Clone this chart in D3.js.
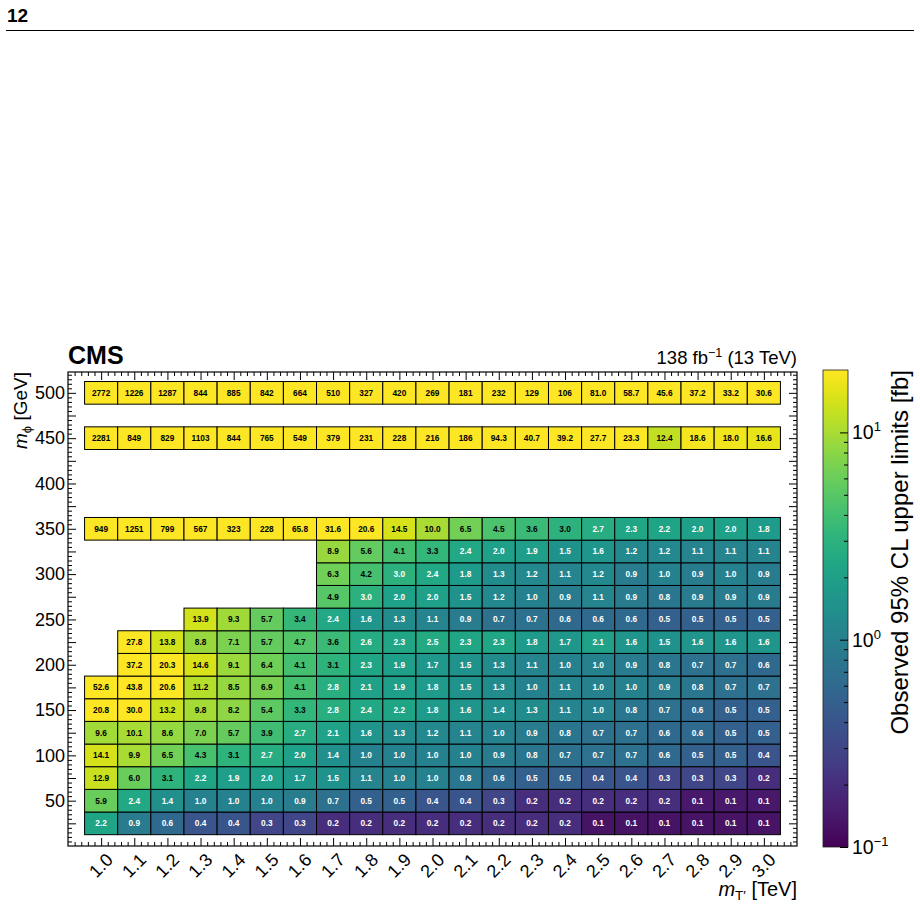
<!DOCTYPE html>
<html>
<head>
<meta charset="utf-8">
<script src="https://cdn.jsdelivr.net/npm/d3@7"></script>
<style>
  body { margin: 0; background: #fff; }
  svg { font-family: "Liberation Sans", Arial, sans-serif; }
</style>
</head>
<body>
<div id="chart"></div>
<script>
// Observed 95% CL upper limits heatmap (m_T' vs m_phi)

// Columns: m_T' [TeV]
const massT = [1.0, 1.1, 1.2, 1.3, 1.4, 1.5, 1.6, 1.7, 1.8, 1.9, 2.0,
               2.1, 2.2, 2.3, 2.4, 2.5, 2.6, 2.7, 2.8, 2.9, 3.0];
// Rows: m_phi [GeV]
const massPhi = [25, 50, 75, 100, 125, 150, 175, 200, 225, 250, 275, 300, 325, 350, 450, 500];

// Limits per row (null = no point); printed "0.1" cells read as ~0.13 from their colour
const lim25  = [2.2, 0.9, 0.6, 0.4, 0.4, 0.3, 0.3, 0.2, 0.2, 0.2, 0.2, 0.2, 0.2, 0.2, 0.2, 0.13, 0.13, 0.13, 0.13, 0.13, 0.13];
const lim50  = [5.9, 2.4, 1.4, 1.0, 1.0, 1.0, 0.9, 0.7, 0.5, 0.5, 0.4, 0.4, 0.3, 0.2, 0.2, 0.2, 0.2, 0.2, 0.14, 0.14, 0.14];
const lim75  = [12.9, 6.0, 3.1, 2.2, 1.9, 2.0, 1.7, 1.5, 1.1, 1.0, 1.0, 0.8, 0.6, 0.5, 0.5, 0.4, 0.4, 0.3, 0.3, 0.3, 0.2];
const lim100 = [14.1, 9.9, 6.5, 4.3, 3.1, 2.7, 2.0, 1.4, 1.0, 1.0, 1.0, 1.0, 0.9, 0.8, 0.7, 0.7, 0.7, 0.6, 0.5, 0.5, 0.4];
const lim125 = [9.6, 10.1, 8.6, 7.0, 5.7, 3.9, 2.7, 2.1, 1.6, 1.3, 1.2, 1.1, 1.0, 0.9, 0.8, 0.7, 0.7, 0.6, 0.6, 0.5, 0.5];
const lim150 = [20.8, 30.0, 13.2, 9.8, 8.2, 5.4, 3.3, 2.8, 2.4, 2.2, 1.8, 1.6, 1.4, 1.3, 1.1, 1.0, 0.8, 0.7, 0.6, 0.5, 0.5];
const lim175 = [52.6, 43.8, 20.6, 11.2, 8.5, 6.9, 4.1, 2.8, 2.1, 1.9, 1.8, 1.5, 1.3, 1.0, 1.1, 1.0, 1.0, 0.9, 0.8, 0.7, 0.7];
const lim200 = [null, 37.2, 20.3, 14.6, 9.1, 6.4, 4.1, 3.1, 2.3, 1.9, 1.7, 1.5, 1.3, 1.1, 1.0, 1.0, 0.9, 0.8, 0.7, 0.7, 0.6];
const lim225 = [null, 27.8, 13.8, 8.8, 7.1, 5.7, 4.7, 3.6, 2.6, 2.3, 2.5, 2.3, 2.3, 1.8, 1.7, 2.1, 1.6, 1.5, 1.6, 1.6, 1.6];
const lim250 = [null, null, null, 13.9, 9.3, 5.7, 3.4, 2.4, 1.6, 1.3, 1.1, 0.9, 0.7, 0.7, 0.6, 0.6, 0.6, 0.5, 0.5, 0.5, 0.5];
const lim275 = [null, null, null, null, null, null, null, 4.9, 2.96, 2.0, 2.0, 1.5, 1.2, 1.0, 0.9, 1.1, 0.9, 0.8, 0.9, 0.9, 0.9];
const lim300 = [null, null, null, null, null, null, null, 6.3, 4.2, 2.96, 2.4, 1.8, 1.3, 1.2, 1.1, 1.2, 0.9, 1.0, 0.9, 1.0, 0.9];
const lim325 = [null, null, null, null, null, null, null, 8.9, 5.6, 4.1, 3.3, 2.4, 2.0, 1.9, 1.5, 1.6, 1.2, 1.2, 1.1, 1.1, 1.1];
const lim350 = [949, 1251, 799, 567, 323, 228, 65.8, 31.6, 20.6, 14.5, 10.0, 6.5, 4.5, 3.6, 3.0, 2.7, 2.3, 2.2, 2.0, 2.0, 1.8];
const lim450 = [2281, 849, 829, 1103, 844, 765, 549, 379, 231, 228, 216, 186, 94.3, 40.7, 39.2, 27.7, 23.3, 12.4, 18.6, 18.0, 16.6];
const lim500 = [2772, 1226, 1287, 844, 885, 842, 664, 510, 327, 420, 269, 181, 232, 129, 106, 81.0, 58.7, 45.6, 37.2, 33.2, 30.6];

const limitRows = [lim25, lim50, lim75, lim100, lim125, lim150, lim175, lim200, lim225,
                   lim250, lim275, lim300, lim325, lim350, lim450, lim500];

// Colour bar range and ticks
const colorRange = [0.1, 20];
const colorTicks = [0.1, 1, 10];
const colorTickExp = ['\u22121', '0', '1'];

// Frame of the plot
const frame = { left: 68, right: 797, top: 372, bottom: 846 };
const cbar = { left: 823, right: 848, top: 370, bottom: 847 };

const svg = d3.select('#chart')
    .append('svg')
    .attr('width', 920)
    .attr('height', 917);

// Page header
svg.append('text')
    .attr('x', 7)
    .attr('y', 22)
    .attr('font-size', 19)
    .attr('font-weight', 'bold')
    .text('12');
svg.append('line')
    .attr('x1', 6).attr('x2', 914)
    .attr('y1', 30.5).attr('y2', 30.5)
    .attr('stroke', '#000')
    .attr('stroke-width', 1);

// Scales
const xScale = d3.scaleLinear().domain([0.9, 3.1]).range([frame.left, frame.right]);
const yScale = d3.scaleLinear().domain([0, 523]).range([frame.bottom, frame.top]);
const cScale = d3.scaleLog().domain(colorRange).range([cbar.bottom, cbar.top]);
const colorOf = v => {
    const t = (Math.log10(Math.min(Math.max(v, colorRange[0]), colorRange[1])) - Math.log10(colorRange[0])) /
              (Math.log10(colorRange[1]) - Math.log10(colorRange[0]));
    return d3.interpolateViridis(t);
};

// Flatten cells
const cells = [];
massPhi.forEach((phi, i) => {
    limitRows[i].forEach((v, j) => {
        if (v !== null) cells.push({ mt: massT[j], phi: phi, v: v });
    });
});

const fmt = v => v >= 100 ? d3.format('.0f')(v) : d3.format('.1f')(v);

// Cells
const cellG = svg.append('g');
cellG.selectAll('rect')
    .data(cells)
    .enter()
    .append('rect')
    .attr('x', d => xScale(d.mt - 0.05))
    .attr('y', d => yScale(d.phi + 12.5))
    .attr('width', d => xScale(d.mt + 0.05) - xScale(d.mt - 0.05))
    .attr('height', d => yScale(d.phi - 12.5) - yScale(d.phi + 12.5))
    .attr('fill', d => colorOf(d.v))
    .attr('stroke', '#000')
    .attr('stroke-width', 1);

cellG.selectAll('text')
    .data(cells)
    .enter()
    .append('text')
    .attr('x', d => xScale(d.mt))
    .attr('y', d => yScale(d.phi))
    .attr('dy', '0.36em')
    .attr('text-anchor', 'middle')
    .attr('font-size', 8.3)
    .attr('font-weight', 'bold')
    .attr('fill', d => d.v >= 3 ? '#000' : '#fff')
    .text(d => fmt(d.v));

// Axes (ticks pointing inward, mirrored on all sides)
const xMinor = d3.range(46, 155).filter(i => i % 5 !== 0).map(i => i / 50);
const yMajor = d3.range(25, 521, 25);
const yMinor = d3.range(5, 521, 5).filter(v => v % 25 !== 0);

function addAxis(axis, transform) {
    const g = svg.append('g').attr('transform', transform).call(axis);
    g.select('.domain').remove();
    g.selectAll('.tick line').attr('stroke', '#000').attr('stroke-width', 1);
    return g;
}

addAxis(d3.axisBottom(xScale).tickValues(massT).tickSize(-8).tickFormat(''), `translate(0,${frame.bottom})`);
addAxis(d3.axisBottom(xScale).tickValues(xMinor).tickSize(-4).tickFormat(''), `translate(0,${frame.bottom})`);
addAxis(d3.axisTop(xScale).tickValues(massT).tickSize(-8).tickFormat(''), `translate(0,${frame.top})`);
addAxis(d3.axisTop(xScale).tickValues(xMinor).tickSize(-4).tickFormat(''), `translate(0,${frame.top})`);

const yAxisG = addAxis(d3.axisLeft(yScale).tickValues(yMajor).tickSize(-8).tickPadding(3)
    .tickFormat(v => v % 50 === 0 ? v : ''), `translate(${frame.left},0)`);
yAxisG.selectAll('text').attr('font-size', 18).attr('fill', '#000')
    .attr('font-family', '"Liberation Sans", Arial, sans-serif');
addAxis(d3.axisLeft(yScale).tickValues(yMinor).tickSize(-4).tickFormat(''), `translate(${frame.left},0)`);
addAxis(d3.axisRight(yScale).tickValues(yMajor).tickSize(-8).tickFormat(''), `translate(${frame.right},0)`);
addAxis(d3.axisRight(yScale).tickValues(yMinor).tickSize(-4).tickFormat(''), `translate(${frame.right},0)`);

// X tick labels (rotated)
svg.append('g')
    .selectAll('text')
    .data(massT)
    .enter()
    .append('text')
    .attr('transform', d => `translate(${xScale(d) + 13},${frame.bottom + 15}) rotate(-45)`)
    .attr('text-anchor', 'end')
    .attr('font-size', 18)
    .text(d => d3.format('.1f')(d));

// Frame
svg.append('rect')
    .attr('x', frame.left)
    .attr('y', frame.top)
    .attr('width', frame.right - frame.left)
    .attr('height', frame.bottom - frame.top)
    .attr('fill', 'none')
    .attr('stroke', '#000')
    .attr('stroke-width', 1.2);

// Titles
svg.append('text')
    .attr('x', frame.left)
    .attr('y', 364)
    .attr('font-size', 25)
    .attr('font-weight', 'bold')
    .text('CMS');

const lumi = svg.append('text')
    .attr('x', frame.right)
    .attr('y', 364)
    .attr('text-anchor', 'end')
    .attr('font-size', 18.5);
lumi.append('tspan').text('138 fb');
lumi.append('tspan').attr('font-size', 12.5).attr('dy', -7).text('\u22121');
lumi.append('tspan').attr('dy', 7).text(' (13 TeV)');

const xTitle = svg.append('text')
    .attr('x', frame.right)
    .attr('y', 896)
    .attr('text-anchor', 'end')
    .attr('font-size', 20);
xTitle.append('tspan').attr('font-style', 'italic').text('m');
xTitle.append('tspan').attr('font-size', 13.5).attr('dy', 4).text('T\u2032');
xTitle.append('tspan').attr('dy', -4).text(' [TeV]');

const yTitle = svg.append('text')
    .attr('transform', `translate(27,${frame.top}) rotate(-90)`)
    .attr('text-anchor', 'end')
    .attr('font-size', 19);
yTitle.append('tspan').attr('font-style', 'italic').text('m');
yTitle.append('tspan').attr('font-size', 13).attr('dy', 4).text('\u03d5');
yTitle.append('tspan').attr('dy', -4).text(' [GeV]');

// Colour bar
const defs = svg.append('defs');
const grad = defs.append('linearGradient')
    .attr('id', 'viridis')
    .attr('x1', 0).attr('y1', 1).attr('x2', 0).attr('y2', 0);
d3.range(0, 1.0001, 0.02).forEach(t => {
    grad.append('stop').attr('offset', t).attr('stop-color', d3.interpolateViridis(t));
});
svg.append('rect')
    .attr('x', cbar.left)
    .attr('y', cbar.top)
    .attr('width', cbar.right - cbar.left)
    .attr('height', cbar.bottom - cbar.top)
    .attr('fill', 'url(#viridis)')
    .attr('stroke', '#222')
    .attr('stroke-width', 0.8);

const cMinor = [];
[0.1, 1].forEach(dec => d3.range(2, 10).forEach(k => cMinor.push(dec * k)));
addAxis(d3.axisRight(cScale).tickValues(colorTicks).tickSize(-8).tickFormat(''), `translate(${cbar.right},0)`);
addAxis(d3.axisRight(cScale).tickValues(cMinor).tickSize(-4).tickFormat(''), `translate(${cbar.right},0)`);

const cLabels = svg.append('g');
colorTicks.forEach((v, i) => {
    const t = cLabels.append('text')
        .attr('x', cbar.right + 4)
        .attr('y', cScale(v) + 7)
        .attr('font-size', 19.5);
    t.append('tspan').text('10');
    t.append('tspan').attr('font-size', 13).attr('dy', -8).text(colorTickExp[i]);
});

svg.append('text')
    .attr('transform', `translate(908,${cbar.top}) rotate(-90)`)
    .attr('text-anchor', 'end')
    .attr('font-size', 24)
    .text('Observed 95% CL upper limits [fb]');
</script>
</body>
</html>
